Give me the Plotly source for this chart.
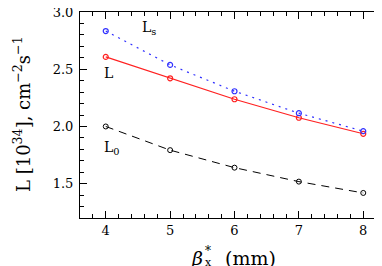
import plotly.graph_objects as go

beta_x = [4, 5, 6, 7, 8]
L_s = [2.834, 2.538, 2.308, 2.116, 1.959]
L = [2.608, 2.421, 2.238, 2.076, 1.936]
L_0 = [2.0, 1.793, 1.640, 1.518, 1.419]

x_ticks = [4, 5, 6, 7, 8]
y_ticks = [1.5, 2.0, 2.5, 3.0]
y_tick_labels = ["1.5", "2.0", "2.5", "3.0"]

FONT = "DejaVu Serif"
W, H = 382, 266
ML, MR, MT, MB = 72, 1, 4, 56
PW, PH = W - ML - MR, H - MT - MB


def px_to_paper(px, py):
    return (px - ML) / PW, (H - MB - py) / PH


fig = go.Figure()
fig.add_trace(go.Scatter(x=beta_x, y=L_0, mode="lines+markers",
                         line=dict(color="black", width=1, dash="8px,6px"),
                         marker=dict(symbol="circle-open", size=5, color="black", line=dict(width=1))))
fig.add_trace(go.Scatter(x=beta_x, y=L, mode="lines+markers",
                         line=dict(color="#ff2020", width=1.2),
                         marker=dict(symbol="circle-open", size=5, color="#ff2020", line=dict(width=1.2))))
fig.add_trace(go.Scatter(x=beta_x, y=L_s, mode="lines+markers",
                         line=dict(color="#3030ff", width=1.2, dash="2px,5px"),
                         marker=dict(symbol="circle-open", size=5, color="#3030ff", line=dict(width=1.2))))

tickfont = dict(family=FONT, size=13, color="black")
common = dict(showgrid=False, zeroline=False, showline=True, linecolor="black",
              linewidth=1, mirror="allticks", ticks="inside", ticklen=7,
              tickcolor="black", tickwidth=1, tickfont=tickfont, automargin=False,
              ticklabeloverflow="allow")

fig.update_xaxes(range=[3.6, 8.4], tickmode="array", tickvals=x_ticks,
                 ticktext=[str(v) for v in x_ticks], ticklabelstandoff=0,
                 minor=dict(dtick=0.2, tick0=0, ticks="inside", ticklen=4, tickcolor="black"),
                 **common)
fig.update_yaxes(range=[1.2, 3.0005], tickmode="array", tickvals=y_ticks,
                 ticktext=y_tick_labels, ticklabelstandoff=3,
                 minor=dict(dtick=0.1, tick0=0, ticks="inside", ticklen=4, tickcolor="black"),
                 **common)

annos = [
    dict(x=4.53, y=2.86, text="L<sub>s</sub>"),
    dict(x=3.94, y=2.47, text="L"),
    dict(x=3.94, y=1.81, text="L<sub>0</sub>"),
]
for a in annos:
    fig.add_annotation(x=a["x"], y=a["y"], text=a["text"], showarrow=False,
                       xanchor="left", font=dict(family=FONT, size=14, color="black"))

# x-axis title: beta with stacked * and x
title_font = dict(family=FONT, size=19, color="black")
bx, by = px_to_paper(197, 250)
fig.add_annotation(xref="paper", yref="paper", x=bx, y=by, xanchor="right", yanchor="middle",
                   text="<i>β</i>", showarrow=False, font=title_font)
sx, sy = px_to_paper(195, 243)
fig.add_annotation(xref="paper", yref="paper", x=sx, y=sy, xanchor="left", yanchor="middle",
                   text="*", showarrow=False, font=dict(family=FONT, size=12, color="black"))
xx, xy = px_to_paper(195, 255)
fig.add_annotation(xref="paper", yref="paper", x=xx, y=xy, xanchor="left", yanchor="middle",
                   text="x", showarrow=False, font=dict(family=FONT, size=11, color="black"))
mx, my = px_to_paper(215, 250)
fig.add_annotation(xref="paper", yref="paper", x=mx, y=my, xanchor="left", yanchor="middle",
                   text="(mm)", showarrow=False, font=title_font)

# y-axis title
yx, yy = px_to_paper(14, 106)
fig.add_annotation(xref="paper", yref="paper", x=yx, y=yy, xanchor="center", yanchor="middle",
                   text="L [10<sup>34</sup>], cm<sup>−2</sup>s<sup>−1</sup>", textangle=-90,
                   showarrow=False, font=dict(family=FONT, size=18, color="black"))

fig.update_layout(width=W, height=H, margin=dict(l=ML, r=MR, t=MT, b=MB, autoexpand=False),
                  font=dict(family=FONT, size=14, color="black"),
                  plot_bgcolor="white", paper_bgcolor="white", showlegend=False)

fig.write_html("out.html")
